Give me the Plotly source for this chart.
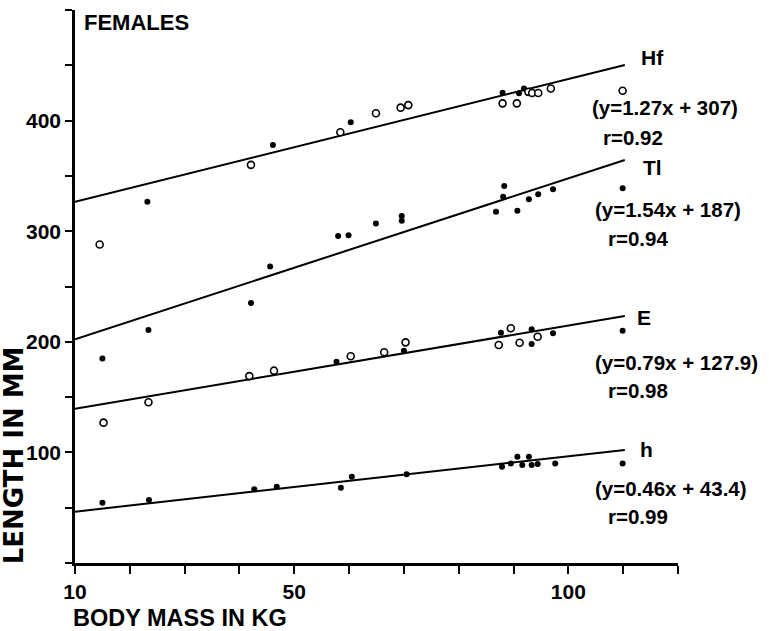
import plotly.graph_objects as go

# ---------------- data ----------------
x_tick_vals = [10, 20, 30, 40, 50, 60, 70, 80, 90, 100, 110, 120]
x_tick_text = ["10", "", "", "", "50", "", "", "", "", "100", "", ""]
y_tick_vals = [0, 50, 100, 150, 200, 250, 300, 350, 400, 450, 500]
y_tick_text = ["", "", "100", "", "200", "", "300", "", "400", "", ""]

hf_filled_x = [23.2, 46.1, 60.3, 88.0, 91.0, 91.9]
hf_filled_y = [326.7, 378, 398.4, 425.2, 424.7, 429]
hf_open_x = [14.5, 42.1, 58.4, 64.9, 69.4, 70.8, 88.0, 90.6, 92.7, 93.4, 94.5, 96.8, 109.9]
hf_open_y = [288, 360, 389.4, 406.6, 411.7, 414, 415.6, 415.6, 426, 425, 425, 429, 427]

tl_x = [15.0, 23.4, 42.1, 45.6, 58.0, 59.9, 64.9, 69.6, 69.6, 86.8, 88.1, 88.3, 90.7, 92.8, 94.5, 97.2, 109.9]
tl_y = [185, 210.7, 235, 268, 295.7, 296.3, 307, 313.7, 309.5, 317.6, 331.2, 340.9, 318.5, 328.8, 333.4, 337.9, 338.8]

e_filled_x = [57.7, 70.0, 87.7, 93.3, 93.3, 97.2, 109.9]
e_filled_y = [182, 192, 208.2, 211.3, 198, 207.7, 210]
e_open_x = [15.2, 23.4, 41.8, 46.3, 60.3, 66.4, 70.3, 87.3, 89.5, 91.1, 94.4]
e_open_y = [126.9, 145.3, 169, 173.9, 187, 190.5, 199.5, 197.1, 212.2, 199.2, 204.6]

h_x = [15.0, 23.5, 42.7, 46.8, 58.5, 60.5, 70.5, 87.9, 89.5, 90.7, 91.6, 92.8, 93.3, 94.4, 97.6, 109.9]
h_y = [54.5, 57, 66.6, 69, 68, 78, 80.2, 87, 90, 96, 88.6, 96, 88.6, 89.5, 90, 90]

fit_x = [10, 110.3]
hf_fit = [326.7, 450.3]
tl_fit = [202.3, 364.4]
e_fit = [139.5, 223.3]
h_fit = [46.4, 102.2]

series_names = ["Hf", "Tl", "E", "h"]
equations = ["(y=1.27x + 307)", "(y=1.54x + 187)", "(y=0.79x + 127.9)", "(y=0.46x + 43.4)"]
r_values = ["r=0.92", "r=0.94", "r=0.98", "r=0.99"]

# ---------------- figure ----------------
FONT = "Liberation Sans, Arial, DejaVu Sans, sans-serif"
WIDE = "DejaVu Sans, Liberation Sans, sans-serif"
fig = go.Figure()

for fy in [hf_fit, tl_fit, e_fit, h_fit]:
    fig.add_trace(go.Scatter(x=fit_x, y=fy, mode="lines",
                             line=dict(color="black", width=2), showlegend=False,
                             hoverinfo="skip"))

filled = dict(color="black", size=6, line=dict(width=0))
opened = dict(color="white", size=7, line=dict(color="black", width=1.6))

fig.add_trace(go.Scatter(x=hf_filled_x, y=hf_filled_y, mode="markers", marker=filled, name="Hf", showlegend=False))
fig.add_trace(go.Scatter(x=hf_open_x, y=hf_open_y, mode="markers", marker=opened, name="Hf", showlegend=False))
fig.add_trace(go.Scatter(x=tl_x, y=tl_y, mode="markers", marker=filled, name="Tl", showlegend=False))
fig.add_trace(go.Scatter(x=e_filled_x, y=e_filled_y, mode="markers", marker=filled, name="E", showlegend=False))
fig.add_trace(go.Scatter(x=e_open_x, y=e_open_y, mode="markers", marker=opened, name="E", showlegend=False))
fig.add_trace(go.Scatter(x=h_x, y=h_y, mode="markers", marker=filled, name="h", showlegend=False))

# labels next to line ends
name_pos = [(112.9, 457), (113.3, 358), (112.2, 222.4), (112.7, 102.2)]
eq_pos = [(104.0, 411.4), (104.5, 319.2), (104.5, 181.7), (104.5, 67.8)]
r_pos = [(106.0, 384.3), (106.9, 293), (106.9, 156.4), (106.9, 41.6)]

annos = []
for i in range(4):
    annos.append(dict(x=name_pos[i][0], y=name_pos[i][1], xref="x", yref="y", text=series_names[i],
                      showarrow=False, xanchor="left", yanchor="middle",
                      font=dict(family=FONT, size=21, color="black", weight="bold")))
    annos.append(dict(x=eq_pos[i][0], y=eq_pos[i][1], xref="x", yref="y", text=equations[i],
                      showarrow=False, xanchor="left", yanchor="middle",
                      font=dict(family=FONT, size=20.5, color="black", weight="bold")))
    annos.append(dict(x=r_pos[i][0], y=r_pos[i][1], xref="x", yref="y", text=r_values[i],
                      showarrow=False, xanchor="left", yanchor="middle",
                      font=dict(family=FONT, size=20.5, color="black", weight="bold")))

annos.append(dict(x=0.0116, y=0.978, xref="paper", yref="paper", text="FEMALES",
                  showarrow=False, xanchor="left", yanchor="middle",
                  font=dict(family=FONT, size=22, color="black", weight="bold")))
annos.append(dict(x=-0.006, y=-0.099, xref="paper", yref="paper", text="BODY MASS IN KG",
                  showarrow=False, xanchor="left", yanchor="middle",
                  font=dict(family=FONT, size=23.5, color="black", weight="bold")))
annos.append(dict(x=-0.101, y=0.195, xref="paper", yref="paper", text="LENGTH IN MM",
                  showarrow=False, xanchor="center", yanchor="middle", textangle=-90,
                  font=dict(family=WIDE, size=26, color="black", weight="bold")))

fig.update_layout(
    width=769, height=631,
    margin=dict(l=75, r=91, t=10, b=68),
    plot_bgcolor="white", paper_bgcolor="white",
    annotations=annos,
    showlegend=False,
)
fig.update_xaxes(range=[10, 120], tickvals=x_tick_vals, ticktext=x_tick_text,
                 showgrid=False, zeroline=False, showline=True, linecolor="black", linewidth=2.5,
                 ticks="outside", ticklen=8, tickwidth=2, tickcolor="black",
                 tickfont=dict(family=FONT, size=21, color="black", weight="bold"))
fig.update_yaxes(range=[0, 500], tickvals=y_tick_vals, ticktext=y_tick_text,
                 showgrid=False, zeroline=False, showline=True, linecolor="black", linewidth=2.5,
                 ticks="outside", ticklen=7, tickwidth=2, tickcolor="black",
                 tickfont=dict(family=FONT, size=21, color="black", weight="bold"))

fig.write_html("out.html", config={"displayModeBar": False},
               post_script="document.body.style.margin='0';")
